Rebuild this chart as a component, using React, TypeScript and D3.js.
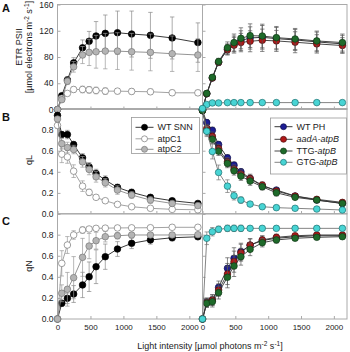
import * as d3 from 'd3';
import { useEffect, useRef } from 'react';

// light steps (µmol photons m-2 s-1)
const light = [0, 65, 150, 245, 380, 480, 585, 725, 910, 1125, 1410, 1740, 2130];
const xTicks = [0, 500, 1000, 1500, 2000];

// A: ETR PSII
const etrWtSnn = [0, 21, 45, 71, 94, 104, 112, 116, 117, 115, 113, 109, 102];
const etrWtSnnErr = [0, 3, 5, 8, 12, 15, 22, 28, 33, 35, 35, 32, 30];
const etrAtpC1 = [0, 17, 24.5, 30.5, 30.5, 30, 29, 28, 28, 27.5, 27, 25.5, 25.4];
const etrAtpC1Err = [0, 2, 3, 4, 5, 5, 5, 5, 4, 4, 4, 4, 4];
const etrAtpC2 = [0, 15, 43, 65, 83, 87, 88, 89, 89, 88, 87, 85, 83];
const etrAtpC2Err = [0, 3, 5, 8, 13, 20, 25, 27, 28, 28, 28, 27, 25];
const etrWtPh = [0, 24, 48, 72, 92, 100, 105, 109, 110, 108, 106, 103, 100];
const etrWtPhErr = [0, 2, 3, 5, 8, 12, 15, 17, 18, 17, 16, 15, 13];
const etrAadA = [0, 24, 48, 72, 91, 98, 102, 104, 105.5, 104.5, 102.5, 100, 97.5];
const etrAadAErr = [0, 2, 3, 5, 8, 12, 14, 16, 17, 16, 16, 14, 12];
const etrTtg = [0, 24.5, 49, 73, 94, 102, 108.5, 112.5, 112, 109.5, 107.5, 104.5, 102];
const etrTtgErr = [0, 2, 3, 5, 9, 13, 16, 18, 18, 17, 16, 15, 13];
const etrGtg = [0, 7.6, 10, 10, 10.5, 10.5, 10.5, 10.5, 10.5, 10.5, 10.5, 10.5, 10.5];
const etrGtgErr = [0, 1, 1, 1, 1, 1, 1, 1, 1, 1, 1, 1, 1];

// B: qL
const qlWtSnn = [0.935, 0.753, 0.753, 0.658, 0.532, 0.447, 0.384, 0.321, 0.252, 0.205, 0.158, 0.126, 0.1];
const qlWtSnnErr = [0.02, 0.03, 0.04, 0.03, 0.04, 0.04, 0.04, 0.04, 0.03, 0.03, 0.02, 0.02, 0.02];
const qlAtpC1 = [0.84, 0.567, 0.541, 0.406, 0.264, 0.205, 0.158, 0.126, 0.091, 0.069, 0.054, 0.044, 0.04];
const qlAtpC1Err = [0.03, 0.08, 0.06, 0.06, 0.05, 0.03, 0.02, 0.02, 0.01, 0.01, 0.01, 0.01, 0.01];
const qlAtpC2 = [0.9, 0.667, 0.63, 0.611, 0.494, 0.422, 0.352, 0.296, 0.227, 0.18, 0.132, 0.1, 0.08];
const qlAtpC2Err = [0.02, 0.05, 0.05, 0.04, 0.05, 0.05, 0.05, 0.04, 0.04, 0.03, 0.03, 0.02, 0.02];
const qlWtPh = [0.98, 0.866, 0.793, 0.658, 0.532, 0.463, 0.4, 0.337, 0.264, 0.227, 0.17, 0.132, 0.1];
const qlWtPhErr = [0.01, 0.03, 0.03, 0.03, 0.03, 0.03, 0.03, 0.03, 0.03, 0.02, 0.02, 0.02, 0.02];
const qlAadA = [0.98, 0.81, 0.737, 0.62, 0.494, 0.425, 0.378, 0.337, 0.274, 0.217, 0.17, 0.139, 0.11];
const qlAadAErr = [0.01, 0.04, 0.04, 0.04, 0.04, 0.04, 0.04, 0.04, 0.03, 0.03, 0.02, 0.02, 0.02];
const qlTtg = [0.98, 0.787, 0.708, 0.595, 0.479, 0.409, 0.359, 0.312, 0.258, 0.201, 0.158, 0.132, 0.1];
const qlTtgErr = [0.01, 0.04, 0.04, 0.04, 0.04, 0.04, 0.04, 0.04, 0.03, 0.03, 0.02, 0.02, 0.02];
const qlGtg = [1.0, 0.784, 0.592, 0.394, 0.264, 0.173, 0.132, 0.094, 0.069, 0.06, 0.054, 0.047, 0.038];
const qlGtgErr = [0.01, 0.05, 0.07, 0.07, 0.06, 0.04, 0.03, 0.02, 0.02, 0.01, 0.01, 0.01, 0.01];

// C: qN
const qnWtSnn = [0, 0.149, 0.196, 0.237, 0.323, 0.401, 0.496, 0.591, 0.664, 0.718, 0.75, 0.771, 0.78];
const qnWtSnnErr = [0, 0.03, 0.05, 0.08, 0.12, 0.14, 0.16, 0.12, 0.07, 0.05, 0.04, 0.03, 0.02];
const qnAtpC1 = [0, 0.528, 0.702, 0.797, 0.844, 0.854, 0.86, 0.862, 0.864, 0.865, 0.866, 0.87, 0.87];
const qnAtpC1Err = [0, 0.12, 0.08, 0.04, 0.03, 0.02, 0.02, 0.02, 0.02, 0.02, 0.02, 0.02, 0.02];
const qnAtpC2 = [0, 0.244, 0.282, 0.392, 0.585, 0.692, 0.743, 0.781, 0.79, 0.797, 0.797, 0.797, 0.8];
const qnAtpC2Err = [0, 0.08, 0.16, 0.2, 0.18, 0.12, 0.08, 0.05, 0.03, 0.02, 0.02, 0.02, 0.02];
const qnWtPh = [0, 0.16, 0.18, 0.3, 0.481, 0.576, 0.639, 0.7, 0.745, 0.766, 0.78, 0.79, 0.79];
const qnWtPhErr = [0, 0.04, 0.05, 0.06, 0.1, 0.1, 0.08, 0.06, 0.04, 0.03, 0.02, 0.02, 0.02];
const qnAadA = [0, 0.155, 0.18, 0.275, 0.427, 0.544, 0.629, 0.702, 0.75, 0.775, 0.79, 0.797, 0.797];
const qnAadAErr = [0, 0.04, 0.05, 0.06, 0.1, 0.1, 0.08, 0.06, 0.04, 0.03, 0.02, 0.02, 0.02];
const qnTtg = [0, 0.149, 0.164, 0.25, 0.396, 0.503, 0.591, 0.661, 0.724, 0.75, 0.766, 0.775, 0.781];
const qnTtgErr = [0, 0.04, 0.05, 0.06, 0.1, 0.1, 0.08, 0.06, 0.04, 0.03, 0.02, 0.02, 0.02];
const qnGtg = [0, 0.766, 0.828, 0.851, 0.86, 0.86, 0.86, 0.86, 0.86, 0.86, 0.86, 0.86, 0.86];
const qnGtgErr = [0, 0.06, 0.04, 0.03, 0.03, 0.03, 0.03, 0.02, 0.02, 0.02, 0.02, 0.02, 0.02];

const leftNames = ['WT SNN', 'atpC1', 'atpC2'];
const rightNames = ['WT PH', 'aadA-atpB', 'TTG-atpB', 'GTG-atpB'];

const FONT = '"Liberation Sans", Arial, sans-serif';

type Style = { fill: string; stroke: string; line: string; err: string };
const leftStyles: Style[] = [
    { fill: '#000', stroke: '#000', line: '#222', err: '#888' },
    { fill: '#fff', stroke: '#777', line: '#999', err: '#999' },
    { fill: '#b4b4b4', stroke: '#777', line: '#888', err: '#999' },
];
const rightStyles: Style[] = [
    { fill: '#1c1c94', stroke: '#10104a', line: '#222', err: '#555' },
    { fill: '#b01818', stroke: '#4a1010', line: '#333', err: '#555' },
    { fill: '#1e6a2a', stroke: '#103a16', line: '#333', err: '#555' },
    { fill: '#48d4d4', stroke: '#1e7070', line: '#777', err: '#777' },
];

const App = () => {
    const ref = useRef<SVGSVGElement | null>(null);

    useEffect(() => {
        const svg = d3.select(ref.current);
        svg.selectAll('*').remove();

        const cols = [[57.5, 202.5], [202.5, 347]];
        const rows = [
            { range: [109.5, 4.5], domain: [0, 160], ticks: [0, 40, 80, 120, 160], fmt: (d: number) => String(d) },
            { range: [214, 108.5], domain: [0, 1], ticks: [0, 0.2, 0.4, 0.6, 0.8], fmt: d3.format('.1f') },
            { range: [319, 213.6], domain: [0, 1], ticks: [0, 0.2, 0.4, 0.6, 0.8], fmt: d3.format('.1f') },
        ];
        const data = [
            [
                [[etrWtSnn, etrWtSnnErr], [etrAtpC1, etrAtpC1Err], [etrAtpC2, etrAtpC2Err]],
                [[etrWtPh, etrWtPhErr], [etrAadA, etrAadAErr], [etrTtg, etrTtgErr], [etrGtg, etrGtgErr]],
            ],
            [
                [[qlWtSnn, qlWtSnnErr], [qlAtpC1, qlAtpC1Err], [qlAtpC2, qlAtpC2Err]],
                [[qlWtPh, qlWtPhErr], [qlAadA, qlAadAErr], [qlTtg, qlTtgErr], [qlGtg, qlGtgErr]],
            ],
            [
                [[qnWtSnn, qnWtSnnErr], [qnAtpC1, qnAtpC1Err], [qnAtpC2, qnAtpC2Err]],
                [[qnWtPh, qnWtPhErr], [qnAadA, qnAadAErr], [qnTtg, qnTtgErr], [qnGtg, qnGtgErr]],
            ],
        ];

        const frameColor = '#aaa';
        const fs = 9;
        const tickFs = 8.5;

        // frames and axes
        rows.forEach((row, ri) => {
            cols.forEach((col, ci) => {
                const x = d3.scaleLinear().domain([0, 2200]).range(col);
                const y = d3.scaleLinear().domain(row.domain).range(row.range);
                svg.append('rect')
                    .attr('x', col[0]).attr('y', row.range[1])
                    .attr('width', col[1] - col[0]).attr('height', row.range[0] - row.range[1])
                    .attr('fill', 'none').attr('stroke', frameColor).attr('stroke-width', 1);

                const ya = svg.append('g')
                    .attr('transform', `translate(${col[0]},0)`)
                    .call(d3.axisLeft(y).tickValues(row.ticks).tickSize(-3).tickPadding(4)
                        .tickFormat(ci === 0 ? (row.fmt as any) : () => ''));
                ya.select('.domain').remove();
                ya.selectAll('line').attr('stroke', frameColor);
                ya.selectAll('text').attr('font-family', FONT).attr('font-size', tickFs).attr('fill', '#222');

                const xa = svg.append('g')
                    .attr('transform', `translate(0,${row.range[0]})`)
                    .call(d3.axisBottom(x).tickValues(xTicks).tickSize(-3).tickPadding(5)
                        .tickFormat(ri === 2 ? (d3.format('d') as any) : () => ''));
                xa.select('.domain').remove();
                xa.selectAll('line').attr('stroke', frameColor);
                xa.selectAll('text').attr('font-family', FONT).attr('font-size', 8).attr('fill', '#222');
            });
        });

        // series
        rows.forEach((row, ri) => {
            cols.forEach((col, ci) => {
                const x = d3.scaleLinear().domain([0, 2200]).range(col);
                const y = d3.scaleLinear().domain(row.domain).range(row.range);
                const styles = ci === 0 ? leftStyles : rightStyles;
                data[ri][ci].forEach(([vals, errs], si) => {
                    const st = styles[si];
                    const g = svg.append('g');
                    const pts = vals.map((v, i) => ({ x: light[i], v, e: errs[i] }));
                    // error bars
                    pts.filter(p => p.e > 0).forEach(p => {
                        const px = x(p.x);
                        g.append('line').attr('x1', px).attr('x2', px)
                            .attr('y1', y(p.v - p.e)).attr('y2', y(p.v + p.e))
                            .attr('stroke', st.err).attr('stroke-width', 0.7);
                        [p.v - p.e, p.v + p.e].forEach(ev => {
                            g.append('line').attr('x1', px - 2.2).attr('x2', px + 2.2)
                                .attr('y1', y(ev)).attr('y2', y(ev))
                                .attr('stroke', st.err).attr('stroke-width', 0.7);
                        });
                    });
                    g.append('path')
                        .datum(pts)
                        .attr('d', d3.line<any>().x(p => x(p.x)).y(p => y(p.v)))
                        .attr('fill', 'none').attr('stroke', st.line).attr('stroke-width', 0.9);
                    g.selectAll('circle').data(pts).enter().append('circle')
                        .attr('cx', p => x(p.x)).attr('cy', p => y(p.v)).attr('r', 3.3)
                        .attr('fill', st.fill).attr('stroke', st.stroke).attr('stroke-width', 0.7);
                });
            });
        });

        // legends
        const legend = (x0: number, y0: number, w: number, h: number, names: string[], styles: Style[], ys: number[]) => {
            const g = svg.append('g');
            g.append('rect').attr('x', x0).attr('y', y0).attr('width', w).attr('height', h)
                .attr('fill', '#fff').attr('stroke', '#999').attr('stroke-width', 0.8);
            names.forEach((name, i) => {
                const st = styles[i];
                const yy = ys[i];
                g.append('line').attr('x1', x0 + 4).attr('x2', x0 + 22).attr('y1', yy).attr('y2', yy)
                    .attr('stroke', st.line).attr('stroke-width', 0.9);
                g.append('circle').attr('cx', x0 + 13).attr('cy', yy).attr('r', 3)
                    .attr('fill', st.fill).attr('stroke', st.stroke).attr('stroke-width', 0.7);
                const t = g.append('text').attr('x', x0 + 26).attr('y', yy).attr('dy', '0.35em')
                    .attr('font-family', FONT).attr('font-size', fs).attr('fill', '#222');
                const dash = name.indexOf('-');
                if (name === 'aadA-atpB') {
                    t.append('tspan').attr('font-style', 'italic').text(name);
                } else if (dash > 0) {
                    t.append('tspan').text(name.slice(0, dash + 1));
                    t.append('tspan').attr('font-style', 'italic').text(name.slice(dash + 1));
                } else {
                    t.text(name);
                }
            });
        };
        legend(131.5, 117.5, 68, 36, leftNames, leftStyles, [127.3, 138.8, 149.3]);
        legend(270.5, 118, 76, 56, rightNames, rightStyles, [126.7, 139.3, 151, 162.3]);

        // panel letters
        [['A', 12], ['B', 121], ['C', 225]].forEach(([l, yy]) => {
            svg.append('text').attr('x', 2).attr('y', yy as number).text(l as string)
                .attr('font-family', FONT).attr('font-size', 11).attr('font-weight', 'bold').attr('fill', '#111');
        });

        // y axis titles
        const ylab = (x0: number, y0: number) => svg.append('text')
            .attr('transform', `translate(${x0},${y0}) rotate(-90)`)
            .attr('text-anchor', 'middle').attr('dy', '0.35em')
            .attr('font-family', FONT).attr('font-size', fs).attr('fill', '#222');
        ylab(19, 47).text('ETR PSII');
        const unitA = ylab(29, 47);
        unitA.append('tspan').text('[µmol electrons m');
        unitA.append('tspan').attr('font-size', 6.5).attr('dy', '-3').text('-2');
        unitA.append('tspan').attr('dy', '3').text(' s');
        unitA.append('tspan').attr('font-size', 6.5).attr('dy', '-3').text('-1');
        unitA.append('tspan').attr('dy', '3').text(']');
        ylab(29, 160).text('qL');
        ylab(29, 266).text('qN');

        // x axis title
        const xt = svg.append('text').attr('x', 210).attr('y', 349).attr('text-anchor', 'middle')
            .attr('font-family', FONT).attr('font-size', fs).attr('fill', '#222');
        xt.append('tspan').text('Light intensity [µmol photons m');
        xt.append('tspan').attr('font-size', 6.5).attr('dy', '-3').text('-2');
        xt.append('tspan').attr('dy', '3').text(' s');
        xt.append('tspan').attr('font-size', 6.5).attr('dy', '-3').text('-1');
        xt.append('tspan').attr('dy', '3').text(']');
    }, []);

    return (
        <svg ref={ref} width={350} height={352}
            style={{ position: 'absolute', left: 0, top: 0, background: '#fff' }} />
    );
};

export default App;
